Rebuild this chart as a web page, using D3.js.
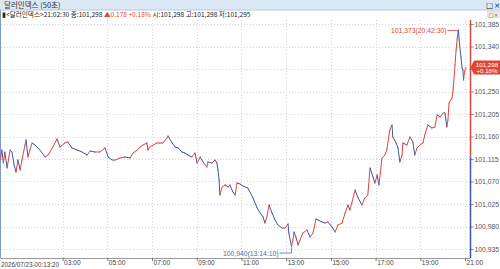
<!DOCTYPE html>
<html><head><meta charset="utf-8">
<script src="https://cdn.jsdelivr.net/npm/d3@7"></script>
<style>
body{margin:0;background:#fff;}
svg{display:block;font-family:"Noto Sans CJK KR","Noto Sans",sans-serif;}
</style>
</head><body>
<svg id="c" width="500" height="269"></svg>
<script>
const times = ["00:13:20","00:17","00:21","00:25","00:31","00:39","00:44","00:50","00:55","01:00","01:06","01:11","01:19","01:22","01:27","01:32","01:38","01:46","01:59","02:13","02:21","02:34","02:45","02:53","03:06","03:14","03:25","03:39","03:52","04:06","04:14","04:27","04:40","04:54","05:02","05:13","05:21","05:34","05:47","06:01","06:09","06:20","06:28","06:36","06:46","06:49","06:54","07:03","07:13","07:21","07:29","07:40","07:43","07:54","08:02","08:10","08:20","08:28","08:36","08:47","08:55","09:01","09:09","09:17","09:27","09:30","09:41","09:49","09:54","09:57","10:00","10:02","10:08","10:16","10:24","10:29","10:37","10:43","10:48","10:56","11:04","11:17","11:31","11:42","11:50","11:58","12:03","12:08","12:14","12:22","12:30","12:38","12:49","12:57","13:05","13:07","13:14:10","13:18","13:21","13:26","13:32","13:37","13:45","13:56","14:04","14:12","14:20","14:25","14:36","14:44","14:52","15:03","15:11","15:19","15:30","15:38","15:46","15:51","15:56","16:05","16:13","16:23","16:31","16:39","16:45","16:53","16:58","17:04","17:09","17:17","17:25","17:30","17:38","17:44","17:46","17:55","18:00","18:05","18:11","18:13","18:24","18:32","18:40","18:45","18:51","18:59","19:07","19:12","19:20","19:31","19:39","19:45","19:53","20:01","20:06","20:11","20:14","20:17","20:25","20:28","20:33","20:36","20:39","20:42:30","20:44","20:49","20:52","20:54","20:56","20:58","21:00","21:02:30"];
const values = [101113,101133,101107,101129,101097,101133,101129,101103,101089,101113,101093,101113,101143,101153,101119,101133,101147,101143,101133,101119,101123,101139,101155,101139,101147,101149,101137,101133,101129,101123,101131,101129,101129,101137,101119,101113,101113,101117,101119,101117,101127,101133,101139,101143,101147,101133,101139,101143,101147,101147,101147,101157,101161,101147,101139,101137,101129,101127,101123,101119,101127,101107,101119,101109,101099,101109,101107,101113,101107,101093,101073,101043,101059,101063,101059,101063,101049,101043,101067,101065,101061,101057,101037,101017,101007,100999,100987,100999,101023,101007,100993,100983,100977,100977,100985,100967,100940,100953,100969,100959,100943,100953,100967,100973,100959,100967,100995,100993,100989,100987,100989,100979,100969,100983,100987,101007,101023,101013,101027,101053,101037,101023,101037,101043,101097,101079,101067,101083,101063,101117,101123,101133,101173,101183,101159,101147,101137,101109,101123,101147,101143,101159,101149,101123,101137,101143,101147,101163,101183,101177,101179,101203,101199,101207,101207,101179,101193,101227,101237,101253,101303,101333,101357,101373,101353,101319,101297,101293,101273,101287,101293,101298];
const xTickLabels = ["03:00","05:00","07:00","09:00","11:00","13:00","15:00","17:00","19:00","21:00"];
const yTickValues = [100935,100980,101025,101070,101115,101160,101205,101250,101295,101340,101385];
const prevClose = 101120;
const startLabel = "2026/07/23-00:13:20";
const titleText = "달러인덱스 (50초)";
const maxLabel = "101,373(20:42:30)";
const minLabel = "100,940(13:14:10)";
const priceLabel = ["101,298","+0.18%"];

const day = "2026-07-23 ";
const parse = t => d3.timeParse("%Y-%m-%d %H:%M:%S")(day + (t.length === 5 ? t + ":00" : t));
const data = times.map((t, i) => ({t: parse(t), v: values[i]}));

const svg = d3.select("#c");
const RED = "#e0453a", BLUE = "#3f57a6";
const plotTop = 20, plotBottom = 258, axisX = 470.5;

const x = d3.scaleTime().domain([data[0].t, data[data.length-1].t]).range([0.5, 466]);
const y = d3.scaleLinear().domain([100935, 101385]).range([249, 24]);
const last = data[data.length-1];

// title bar
svg.append("rect").attr("x",0).attr("y",0).attr("width",500).attr("height",10).attr("fill","#dbe8f5");
svg.append("line").attr("x1",0).attr("x2",500).attr("y1",10).attr("y2",10).attr("stroke","#b7c9dc");
svg.append("text").attr("x",4).attr("y",8).attr("font-size",7.5).attr("fill","#333").text(titleText);
svg.append("text").attr("x",486).attr("y",8).attr("font-size",7.5).attr("fill","#222").attr("font-family","DejaVu Sans").text("□");
svg.append("text").attr("x",494).attr("y",8).attr("font-size",7.5).attr("fill","#222").attr("font-family","DejaVu Sans").text("×");
svg.append("rect").attr("x",487.5).attr("y",11.5).attr("width",12).attr("height",6).attr("fill","#eee").attr("stroke","#ccc").attr("stroke-width",0.5);
svg.append("text").attr("x",488.5).attr("y",16.5).attr("font-size",5.5).attr("fill","#555").attr("font-family","DejaVu Sans").text("□×");

// info line
const info = svg.append("text").attr("x",2).attr("y",16.5).attr("font-size",6.6).attr("fill","#222");
info.append("tspan").text("▮<달러인덱스>21:02:30 종:101,298 ");
info.append("tspan").attr("fill",RED).text("▲0.178 +0.18% ");
info.append("tspan").text("시:101,298 고:101,298 저:101,295");

// left border
svg.append("line").attr("x1",0.5).attr("x2",0.5).attr("y1",10).attr("y2",plotBottom).attr("stroke","#7d9cc8");

// grid
const tickDates = xTickLabels.map(parse);
svg.append("g").selectAll("line").data(tickDates).join("line")
  .attr("x1",d=>Math.round(x(d))+0.5).attr("x2",d=>Math.round(x(d))+0.5)
  .attr("y1",plotTop).attr("y2",plotBottom)
  .attr("stroke","#d6d6d6").attr("stroke-dasharray","1,2");
svg.append("g").selectAll("line").data(yTickValues).join("line")
  .attr("x1",1).attr("x2",axisX)
  .attr("y1",d=>Math.round(y(d))+0.5).attr("y2",d=>Math.round(y(d))+0.5)
  .attr("stroke","#d6d6d6").attr("stroke-dasharray","1,2");

// x axis
const xAxis = d3.axisBottom(x).tickValues(tickDates).tickSize(3).tickFormat((d,i)=>xTickLabels[i]);
const gx = svg.append("g").attr("transform",`translate(0,${plotBottom})`).call(xAxis);
gx.select(".domain").attr("stroke","#999").attr("d",`M0.5,0.5H${axisX}`);
gx.selectAll(".tick line").attr("stroke","#777");
gx.selectAll(".tick text").attr("text-anchor","start").attr("x",1).attr("y",2).attr("dy","0.71em")
  .attr("font-size",6.6).attr("fill","#444").attr("font-family","Liberation Sans, sans-serif");
svg.append("text").attr("x",1).attr("y",267).attr("font-size",6.3).attr("fill","#444")
  .attr("font-family","Liberation Sans, sans-serif").text(startLabel);

// right axis (the tick hidden under the current-price box gets no label)
const hidden = v => Math.abs(y(v) - y(last.v)) < 8;
const yAxis = d3.axisRight(y).tickValues(yTickValues).tickSize(3)
  .tickFormat(v => hidden(v) ? "" : d3.format(",")(v));
const gy = svg.append("g").attr("transform",`translate(${axisX},0)`).call(yAxis);
gy.select(".domain").remove();
gy.selectAll(".tick line").attr("stroke","#888");
gy.selectAll(".tick text").attr("x",4).attr("font-size",6.8).attr("fill","#555")
  .attr("font-family","Liberation Sans, sans-serif");
svg.append("line").attr("x1",axisX).attr("x2",axisX).attr("y1",plotTop).attr("y2",y(prevClose))
  .attr("stroke",RED).attr("stroke-width",1.5);
svg.append("line").attr("x1",axisX).attr("x2",axisX).attr("y1",y(prevClose)).attr("y2",plotBottom)
  .attr("stroke",BLUE).attr("stroke-width",1.5);

// price line segments
const segs = data.slice(1).map((d,i)=>({a:data[i], b:d}));
svg.append("g").selectAll("line").data(segs).join("line")
  .attr("x1",s=>x(s.a.t)).attr("y1",s=>y(s.a.v))
  .attr("x2",s=>x(s.b.t)).attr("y2",s=>y(s.b.v))
  .attr("stroke",s=>s.b.v>=s.a.v?RED:BLUE).attr("stroke-width",1).attr("stroke-linecap","round");

// max / min annotations
const maxD = data.reduce((m,d)=>d.v>m.v?d:m, data[0]);
const minD = data.reduce((m,d)=>d.v<m.v?d:m, data[0]);
const mx = x(maxD.t), my = y(maxD.v);
svg.append("path").attr("d",`M${mx-11},${my+0.5}H${mx-1}V${my+2.5}`).attr("fill","none").attr("stroke",RED).attr("stroke-width",0.8);
svg.append("text").attr("x",mx-12).attr("y",my+2.5).attr("text-anchor","end").attr("font-size",6.8)
  .attr("fill",RED).attr("font-family","Liberation Sans, sans-serif").text(maxLabel);
const nx = x(minD.t), ny = y(minD.v);
svg.append("path").attr("d",`M${nx-12},${ny+6.5}H${nx}V${ny+1}`).attr("fill","none").attr("stroke","#4a6fb5").attr("stroke-width",0.8);
svg.append("text").attr("x",nx-13).attr("y",ny+9).attr("text-anchor","end").attr("font-size",6.8)
  .attr("fill","#4a6fb5").attr("font-family","Liberation Sans, sans-serif").text(minLabel);

// current price box
const py = y(last.v);
svg.append("path").attr("d",`M${axisX},${py}L${axisX+3.5},${py-7}H500V${py+7}H${axisX+3.5}Z`).attr("fill",RED);
svg.append("text").attr("x",487).attr("y",py-1).attr("text-anchor","middle").attr("font-size",6.2)
  .attr("fill","#fff").attr("font-family","Liberation Sans, sans-serif").text(priceLabel[0]);
svg.append("text").attr("x",487).attr("y",py+5.6).attr("text-anchor","middle").attr("font-size",6.2)
  .attr("fill","#fff").attr("font-family","Liberation Sans, sans-serif").text(priceLabel[1]);
</script>
</body></html>
